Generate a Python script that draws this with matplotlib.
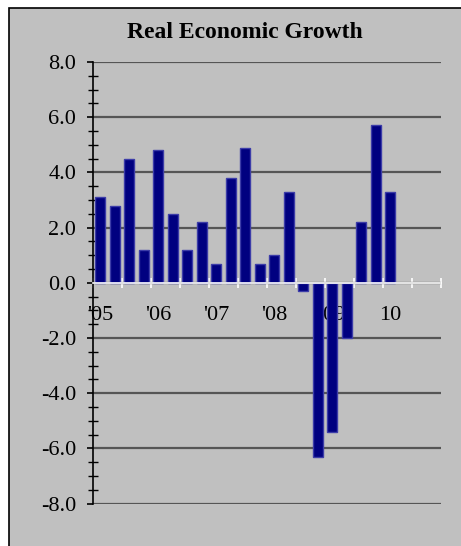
import matplotlib
matplotlib.use("Agg")
import matplotlib.pyplot as plt
from matplotlib.patches import Rectangle
from matplotlib.ticker import MultipleLocator, FixedLocator, NullFormatter

# Data: quarterly real economic growth, 2005 Q1 .. 2010 Q1
growth = [3.1, 2.8, 4.5, 1.2,
          4.8, 2.5, 1.2, 2.2,
          0.7, 3.8, 4.9, 0.7,
          1.0, 3.3, -0.3, -6.3,
          -5.4, -2.0, 2.2, 5.7,
          3.3]
n_categories = 24
year_labels = ["'05", "'06", "'07", "'08", "'09", "10"]
year_positions = [0, 4, 8, 12, 16, 20]
title = "Real Economic Growth"

plt.rcParams['font.family'] = ['Liberation Serif', 'DejaVu Serif']

W, H = 461, 546
fig = plt.figure(figsize=(W / 100, H / 100), dpi=100)
fig.patch.set_facecolor('white')

# chart area background
bg = Rectangle((9 / W, -0.05), 1.1, 1 - 8 / H + 0.05, transform=fig.transFigure,
               facecolor='#c0c0c0', edgecolor='black', linewidth=1.2, zorder=-5)
fig.patches.append(bg)

left, right = 93 / W, 441 / W
bottom, top = 1 - 503.7 / H, 1 - 62 / H
ax = fig.add_axes([left, bottom, right - left, top - bottom])
ax.set_zorder(2)
ax.set_facecolor('none')

x = list(range(len(growth)))
ax.bar(x, growth, width=0.7, color='#000080', edgecolor='#3c3ca8',
       linewidth=1.0, zorder=3)

ax.set_xlim(-0.5, n_categories - 0.5)
ax.set_ylim(-8, 8)

# y axis
ax.yaxis.set_major_locator(MultipleLocator(2))
ax.yaxis.set_minor_locator(MultipleLocator(0.5))
ax.yaxis.set_major_formatter(plt.FuncFormatter(lambda v, p: f"{v:.1f}"))
ax.tick_params(axis='y', which='major', direction='out', length=4.5, width=1.2,
               color='black', labelsize=16, pad=7.5)
ax.tick_params(axis='y', which='minor', direction='inout', length=6.5, width=1.0,
               color='black')
ax.grid(axis='y', which='major', color='#555555', linewidth=1.6, zorder=1)
ax.set_axisbelow(True)

# x axis at zero (white), ticks at category boundaries every 2
ax.spines['top'].set_visible(False)
ax.spines['right'].set_visible(False)
ax.spines['left'].set_color('black')
ax.spines['left'].set_linewidth(1.2)
ax.spines['bottom'].set_position(('data', 0))
ax.spines['bottom'].set_color('white')
ax.spines['bottom'].set_linewidth(1.2)
ax.spines['bottom'].set_zorder(4)
ax.xaxis.set_major_locator(FixedLocator([b - 0.5 for b in range(0, n_categories + 1, 2)]))
ax.xaxis.set_major_formatter(NullFormatter())
ax.tick_params(axis='x', which='major', direction='inout', length=7, width=1.2,
               color='white')
ax.xaxis.set_minor_locator(FixedLocator(year_positions))
ax.set_xticklabels(year_labels, minor=True)
ax.tick_params(axis='x', which='minor', length=0, labelsize=16, pad=17)

fig.text(245 / W, 1 - 32 / H, title, ha='center', va='center',
         fontsize=17, fontweight='bold')

fig.savefig('out.png', dpi=100)
